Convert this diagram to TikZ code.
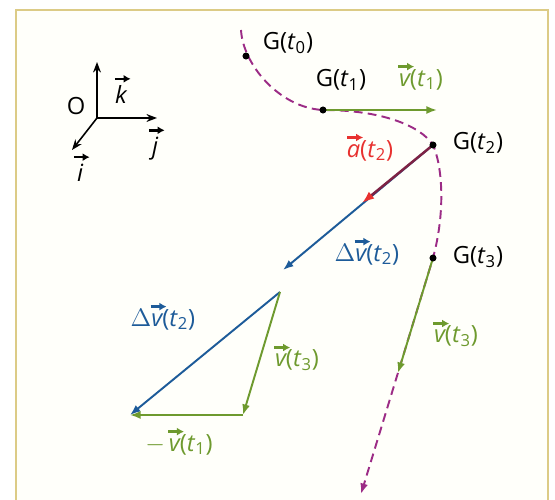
\documentclass[tikz,border=0pt]{standalone}
\usepackage{amsmath}
\usepackage{fontspec}
\setmainfont{Open Sans}
\usetikzlibrary{arrows.meta,positioning}

\definecolor{vgreen}{HTML}{6E9A2E}
\definecolor{vblue}{HTML}{1D5B99}
\definecolor{ared}{HTML}{E8312F}
\definecolor{adark}{HTML}{7E2244}
\definecolor{traj}{HTML}{9C2C86}
\definecolor{frame}{HTML}{DCCB86}
\definecolor{paper}{HTML}{FFFFFA}

\newcommand{\vecarrow}{\tikz[baseline=0pt,x=1pt,y=1pt]\draw[-{Latex[length=4pt,width=4.5pt]},line width=1.4pt] (0,0) -- (9,0);}
\newcommand{\vect}[1]{\ensuremath{\overset{\makebox[0pt]{\hspace{2pt}\vecarrow}}{\textit{#1}}}}
\newcommand{\tsub}[1]{\textit{t}\textsubscript{#1}}

\begin{document}
\begin{tikzpicture}[x=0.02cm,y=-0.02cm,
  vec/.style={line width=1.1pt,-{Latex[length=6pt,width=4.5pt]}},
  axis/.style={line width=0.9pt,-{Stealth[length=6pt,width=4.5pt]}},
  traject/.style={draw=traj,line width=1.1pt,dash pattern=on 5pt off 3pt},
  lbl/.style={font=\fontsize{13.5}{15}\selectfont,inner sep=1pt}]
\useasboundingbox (0,0) rectangle (555,500);
\fill[white] (0,0) rectangle (555,500);
\draw[frame,fill=paper,line width=1.6pt] (16,10) rectangle (548,530);

% base
\coordinate (O) at (97,118);
\coordinate (Kend) at (97,62);
\coordinate (Jend) at (157,118);
\coordinate (Iend) at (72,150);
\draw[axis] (O) -- (Kend);
\draw[axis] (O) -- (Jend);
\draw[axis] (O) -- (Iend);
\node[lbl] (labO) at (76,106) {O};
\node[lbl] (labK) at (121,88) {\vect{k}};
\node[lbl] (labJ) at (155,142) {\vect{j}};
\node[lbl] (labI) at (80,166) {\vect{i}};

% trajectory
\coordinate (start) at (241,30);
\coordinate (G0) at (246,56);
\coordinate (G1) at (323,110);
\coordinate (G2) at (433,145);
\coordinate (G3) at (433,258);
\coordinate (stop) at (361,494);
\draw[traject,-{Latex[length=6pt,width=4.5pt]}] (start) .. controls (243,65) and (280,108) .. (G1)
  .. controls (380,110) and (420,125) .. (G2)
  .. controls (442,165) and (446,210) .. (G3) -- (stop);

% vectors on the path
\coordinate (V1end) at (437,110);
\coordinate (DVend) at (283,270);
\coordinate (Aend) at (362,203);
\coordinate (V3end) at (398,373);
\draw[vec,vgreen] (G1) -- (V1end);
\draw[vec,vblue] (G2) -- (DVend);
\draw[line width=1.4pt,adark,-{Latex[length=7pt,width=5pt,color=ared]}] (G2) -- (Aend);
\draw[vec,vgreen] (G3) -- (V3end);
\foreach \p in {G0,G1,G2,G3}
  \fill (\p) circle (2pt);

\node[lbl] (labG0) at (288,43) {G(\tsub{0})};
\node[lbl] (labG1) at (341,80) {G(\tsub{1})};
\node[lbl,vgreen] (labV1) at (421,75) {\vect{v}(\tsub{1})};
\node[lbl] (labG2) at (478,143) {G(\tsub{2})};
\node[lbl,ared] (labA) at (370,146) {\vect{a}(\tsub{2})};
\node[lbl,vblue] (labDV) at (367,250) {$\Delta$\vect{v}(\tsub{2})};
\node[lbl] (labG3) at (478,257) {G(\tsub{3})};
\node[lbl,vgreen] (labV3) at (456,332) {\vect{v}(\tsub{3})};

% velocity triangle
\coordinate (T1) at (280,292);
\coordinate (T2) at (243,415);
\coordinate (T3) at (130,415);
\draw[vec,vblue] (T1) -- (T3);
\draw[vec,vgreen] (T1) -- (T2);
\draw[vec,vgreen] (T2) -- (T3);
\node[lbl,vblue] (labDVt) at (163,315) {$\Delta$\vect{v}(\tsub{2})};
\node[lbl,vgreen] (labV3t) at (297,356) {\vect{v}(\tsub{3})};
\node[lbl,vgreen] (labV1t) at (179,440) {$-$\,\vect{v}(\tsub{1})};
\end{tikzpicture}
\end{document}
